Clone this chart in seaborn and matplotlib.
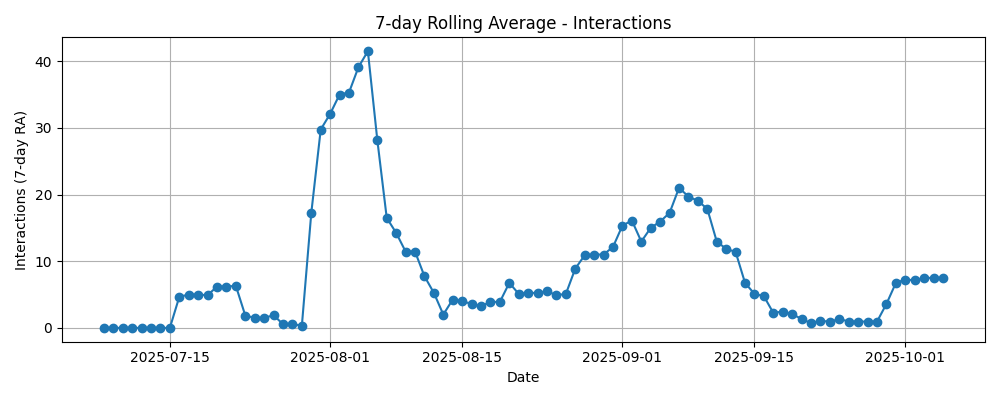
import matplotlib
matplotlib.use("Agg")
import matplotlib.pyplot as plt
import seaborn as sns
import pandas as pd
import numpy as np

start_date = "2025-07-08"
end_date = "2025-10-05"

july_vals = [0, 0, 0, 0, 0, 0, 0, 0,
             4.65, 5.0, 5.0, 4.9, 6.2, 6.2, 6.3, 1.85, 1.5, 1.5, 1.9, 0.55, 0.55, 0.35, 17.25, 29.75]
aug_vals = [32.1, 35.0, 35.3, 39.1, 41.5, 28.2, 16.5, 14.25, 11.45, 11.45,
            7.75, 5.25, 2.0, 4.25, 4.0, 3.6, 3.25, 3.9, 3.9, 6.75,
            5.1, 5.25, 5.25, 5.5, 4.9, 5.1, 8.9, 10.9, 11.0, 11.0, 12.15]
sep_vals = [15.35, 16.1, 12.95, 15.0, 15.95, 17.25, 21.0, 19.7, 19.05, 17.85,
            12.95, 11.85, 11.4, 6.75, 5.1, 4.75, 2.25, 2.45, 2.05, 1.35,
            0.7, 1.1, 0.9, 1.35, 0.95, 0.95, 0.95, 0.95, 3.6, 6.75]
oct_vals = [7.25, 7.15, 7.5, 7.5, 7.5]

dates = pd.date_range(start_date, end_date, freq="D")
values = july_vals + aug_vals + sep_vals + oct_vals
df = pd.DataFrame({"Date": dates, "RA": values})

fig, ax = plt.subplots(figsize=(10, 4), dpi=100)
sns.lineplot(data=df, x="Date", y="RA", marker="o", color="#1f77b4",
             markeredgecolor="#1f77b4", markeredgewidth=1, markersize=6,
             linewidth=1.5, ax=ax)
ax.set_title("7-day Rolling Average - Interactions")
ax.set_xlabel("Date")
ax.set_ylabel("Interactions (7-day RA)")
ax.grid(True)
fig.tight_layout()
fig.savefig("out.png", dpi=100)
